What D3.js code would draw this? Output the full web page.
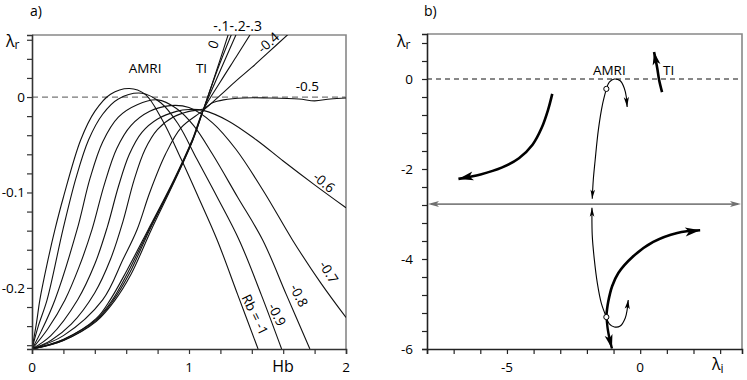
<!DOCTYPE html>
<html><head><meta charset="utf-8">
<script src="https://cdn.jsdelivr.net/npm/d3@7"></script>
<style>body{margin:0;background:#fff} svg{display:block} text{font-family:'Open Sans',sans-serif;fill:#000}</style>
</head><body><svg id="c" width="747" height="380"></svg>
<script>
// ---------- Panel a data: growth rate lambda_r vs Hb for each Rb ----------
const rbNames = ["-1","-0.9","-0.8","-0.7","-0.6","-0.5","-0.4","-0.3","-0.2","-0.1","0"];
const rbM10 = [[0,-0.264],[0.03,-0.235],[0.05,-0.2126],[0.1,-0.172],[0.146,-0.139],[0.2,-0.105],[0.31,-0.045],[0.4,-0.015],[0.5,0.003],[0.62,0.009],[0.72,0.003],[0.83,-0.024],[0.95,-0.065],[1.06,-0.105],[1.18,-0.150],[1.31,-0.207],[1.44,-0.264]];
const rbM09 = [[0,-0.264],[0.04,-0.24],[0.096,-0.2126],[0.197,-0.139],[0.28,-0.085],[0.36,-0.045],[0.45,-0.018],[0.55,-0.002],[0.70,0.004],[0.82,-0.006],[0.93,-0.028],[1.05,-0.065],[1.18,-0.105],[1.32,-0.150],[1.46,-0.207],[1.59,-0.264]];
const rbM08 = [[0,-0.264],[0.06,-0.245],[0.146,-0.2126],[0.287,-0.139],[0.37,-0.085],[0.45,-0.047],[0.55,-0.021],[0.67,-0.008],[0.80,-0.003],[0.92,-0.012],[1.03,-0.030],[1.15,-0.060],[1.31,-0.105],[1.47,-0.150],[1.62,-0.207],[1.77,-0.264]];
const rbM07 = [[0,-0.264],[0.1,-0.243],[0.21,-0.2126],[0.30,-0.178],[0.382,-0.139],[0.46,-0.092],[0.54,-0.054],[0.63,-0.030],[0.75,-0.015],[0.88,-0.009],[1.0,-0.011],[1.15,-0.027],[1.3,-0.055],[1.48,-0.100],[1.66,-0.150],[1.84,-0.195],[2.0,-0.231]];
const rbM06 = [[0,-0.264],[0.12,-0.250],[0.29,-0.2126],[0.40,-0.175],[0.48,-0.136],[0.55,-0.094],[0.62,-0.060],[0.70,-0.037],[0.80,-0.023],[0.92,-0.015],[1.0,-0.013],[1.09,-0.014],[1.25,-0.025],[1.43,-0.045],[1.6,-0.067],[1.8,-0.092],[2.0,-0.116]];
const rbM05 = [[0,-0.264],[0.12,-0.255],[0.25,-0.238],[0.40,-0.205],[0.50,-0.170],[0.58,-0.130],[0.65,-0.087],[0.72,-0.055],[0.80,-0.034],[0.90,-0.021],[1.0,-0.015],[1.09,-0.0125],[1.15,-0.006],[1.22,-0.003],[1.35,-0.001],[1.5,-0.001],[1.7,-0.002],[1.8,-0.004],[1.9,-0.002],[2.0,-0.001]];
const rbM04 = [[0,-0.264],[0.2,-0.25],[0.45,-0.2126],[0.58,-0.17],[0.669,-0.139],[0.75,-0.10],[0.85,-0.06],[0.95,-0.032],[1.09,-0.014],[1.2,0.002],[1.3,0.017],[1.4,0.031],[1.5,0.046],[1.63,0.0655]];
const rbM03 = [[0,-0.264],[0.2,-0.254],[0.41,-0.232],[0.50,-0.212],[0.60,-0.183],[0.74,-0.139],[0.9,-0.088],[1.02,-0.045],[1.09,-0.014],[1.2,0.016],[1.3,0.042],[1.39,0.0655]];
const rbM02 = [[0,-0.264],[0.2,-0.254],[0.41,-0.233],[0.51,-0.213],[0.61,-0.184],[0.745,-0.139],[0.9,-0.089],[1.022,-0.045],[1.09,-0.014],[1.2,0.028],[1.30,0.0655]];
const rbM01 = [[0,-0.264],[0.2,-0.255],[0.41,-0.234],[0.52,-0.2126],[0.62,-0.185],[0.75,-0.139],[0.9,-0.090],[1.024,-0.045],[1.09,-0.014],[1.18,0.028],[1.27,0.0655]];
const rb00  = [[0,-0.264],[0.2,-0.255],[0.41,-0.235],[0.53,-0.2126],[0.63,-0.186],[0.76,-0.139],[0.9,-0.091],[1.025,-0.045],[1.09,-0.014],[1.17,0.025],[1.25,0.0655]];
const rbSeries = [rbM10,rbM09,rbM08,rbM07,rbM06,rbM05,rbM04,rbM03,rbM02,rbM01,rb00];

const aXTicks = [0,0.2,0.4,0.6,0.8,1,1.2,1.4,1.6,1.8,2];
const aXLabels = [0,1,2];
const aYTicks = [0.06,0.04,0.02,0,-0.02,-0.04,-0.06,-0.08,-0.1,-0.12,-0.14,-0.16,-0.18,-0.2,-0.22,-0.24,-0.26];
const aYLabels = [0,-0.1,-0.2];

// ---------- Panel b data: paths in the complex plane (lambda_i, lambda_r) ----------
const bLeftThick  = [[-3.30,-0.33],[-3.46,-0.69],[-3.70,-1.09],[-4.04,-1.46],[-4.55,-1.76],[-5.20,-1.97],[-5.99,-2.12],[-6.82,-2.22]];
const bAmriTop    = [[-1.27,-0.22],[-1.16,-0.07],[-0.97,0.0],[-0.75,-0.04],[-0.60,-0.20],[-0.52,-0.40],[-0.49,-0.62]];
const bUpperThin  = [[-1.27,-0.22],[-1.42,-0.58],[-1.57,-1.13],[-1.69,-1.80],[-1.76,-2.24],[-1.80,-2.66]];
const bLowerThin  = [[-1.27,-5.29],[-1.46,-4.98],[-1.61,-4.53],[-1.72,-4.02],[-1.80,-3.47],[-1.81,-2.86]];
const bLoop       = [[-1.27,-5.29],[-1.16,-5.44],[-0.97,-5.51],[-0.75,-5.49],[-0.56,-5.31],[-0.49,-5.13],[-0.45,-4.91]];
const bThickDown  = [[-1.27,-5.25],[-1.22,-5.55],[-1.14,-5.80],[-1.06,-5.99]];
const bThickUp    = [[-1.27,-5.25],[-1.20,-4.95],[-1.05,-4.60],[-0.82,-4.31],[-0.30,-3.96],[0.49,-3.62],[1.39,-3.42],[2.25,-3.36]];
const bTI         = [[0.82,-0.29],[0.71,-0.02],[0.64,0.24],[0.52,0.60]];
const bCircles    = [[-1.27,-0.22],[-1.27,-5.29]];
const bHLine      = -2.78;
const bXTicks = [-8,-7,-6,-5,-4,-3,-2,-1,0,1,2,3];
const bXLabels = [-5,0];
const bYTicks = [-6,-5.6,-5.2,-4.8,-4.4,-4,-3.6,-3.2,-2.8,-2.4,-2,-1.6,-1.2,-0.8,-0.4,0,0.4,0.8];
const bYLabels = [0,-2,-4,-6];

const svg = d3.select("#c");
const FS = 13.5;

// ================= Panel a =================
const ax = d3.scaleLinear().domain([0,2]).range([32,346]);
const ay = d3.scaleLinear().domain([-0.264,0.065]).range([349,35]);

svg.append("clipPath").attr("id","clipA").append("rect")
  .attr("x",32).attr("y",35).attr("width",314).attr("height",314);

svg.append("path").attr("d",`M${ax(0)},${ay(0.065)}H${ax(2)}V${ay(-0.264)}`)
  .attr("fill","none").attr("stroke","#888").attr("stroke-width",1.6);
svg.append("line").attr("x1",ax(0)).attr("x2",ax(2)).attr("y1",ay(0)).attr("y2",ay(0))
  .attr("stroke","#777").attr("stroke-width",1.3).attr("stroke-dasharray","6,4");

const lineA = d3.line().x(d=>ax(d[0])).y(d=>ay(d[1])).curve(d3.curveCatmullRom.alpha(0.5));
const gA = svg.append("g").attr("clip-path","url(#clipA)");
rbSeries.forEach((s,i)=>{
  gA.append("path").attr("d",lineA(s)).attr("fill","none")
    .attr("stroke","#111").attr("stroke-width",1.1);
});

const axisA_B = d3.axisBottom(ax).tickValues(aXTicks).tickSize(5).tickFormat("");
const gab = svg.append("g").attr("transform",`translate(0,${ay(-0.264)})`).call(axisA_B);
const axisA_L = d3.axisLeft(ay).tickValues(aYTicks).tickSize(5).tickFormat("");
const gal = svg.append("g").attr("transform",`translate(${ax(0)},0)`).call(axisA_L);
[gab,gal].forEach(g=>{
  g.select(".domain").attr("stroke","#333").attr("stroke-width",1.6);
  g.selectAll(".tick line").attr("stroke","#333").attr("stroke-width",1.2);
});
aXLabels.forEach(v=>{
  svg.append("text").attr("x",ax(v)).attr("y",372).attr("text-anchor","middle")
    .attr("font-size",FS).text(v);
});
aYLabels.forEach(v=>{
  svg.append("text").attr("x",25).attr("y",ay(v)+5).attr("text-anchor","end")
    .attr("font-size",FS).text(v===0?"0":String(v));
});
svg.append("text").attr("x",283).attr("y",372).attr("text-anchor","middle")
  .attr("font-size",16).text("Hb");
const lA = svg.append("text").attr("x",6).attr("y",47).attr("font-size",16);
lA.append("tspan").text("λ");
lA.append("tspan").attr("font-size",12).attr("dy",2).text("r");
svg.append("text").attr("x",30).attr("y",16).attr("font-size",14).text("a)");

svg.append("text").attr("x",ax(0.72)).attr("y",ay(0.025)).attr("text-anchor","middle")
  .attr("font-size",FS).text("AMRI");
svg.append("text").attr("x",ax(1.08)).attr("y",ay(0.025)).attr("text-anchor","middle")
  .attr("font-size",FS).text("TI");

function rotLabel(txt,x,y,ang,fs){
  svg.append("text").attr("transform",`translate(${x},${y}) rotate(${ang})`)
    .attr("text-anchor","middle").attr("dy","0.35em").attr("font-size",fs||FS).text(txt);
}
rotLabel("0", ax(1.156), ay(0.055), -70);
svg.append("text").attr("x",ax(1.155)).attr("y",31).attr("font-size",14).text("-.1-.2-.3");
rotLabel("-0.4", ax(1.505), ay(0.057), -42);
svg.append("text").attr("x",ax(1.68)).attr("y",ay(0.006)).attr("font-size",FS).text("-0.5");
rotLabel("-0.6", ax(1.86), ay(-0.0895), 40);
rotLabel("-0.7", ax(1.89), ay(-0.1835), 58);
rotLabel("-0.8", ax(1.70), ay(-0.208), 63);
rotLabel("-0.9", ax(1.56), ay(-0.228), 64);
rotLabel("Rb = -1", ax(1.42), ay(-0.228), 64);

// ================= Panel b =================
const bx = d3.scaleLinear().domain([-8,3.82]).range([427,742]);
const by = d3.scaleLinear().domain([-6,1]).range([349,34]);

svg.append("path").attr("d",`M${bx(-8)},${by(1)}H${bx(3.82)}V${by(-6)}`)
  .attr("fill","none").attr("stroke","#888").attr("stroke-width",1.6);
svg.append("line").attr("x1",bx(-8)).attr("x2",bx(3.82)).attr("y1",by(0)).attr("y2",by(0))
  .attr("stroke","#111").attr("stroke-width",1).attr("stroke-dasharray","5,4");

const axisB_B = d3.axisBottom(bx).tickValues(bXTicks).tickSize(5).tickFormat("");
const gbb = svg.append("g").attr("transform",`translate(0,${by(-6)})`).call(axisB_B);
const axisB_L = d3.axisLeft(by).tickValues(bYTicks).tickSize(5).tickFormat("");
const gbl = svg.append("g").attr("transform",`translate(${bx(-8)},0)`).call(axisB_L);
[gbb,gbl].forEach(g=>{
  g.select(".domain").attr("stroke","#222").attr("stroke-width",1.6);
  g.selectAll(".tick line").attr("stroke","#222").attr("stroke-width",1.2);
});
bXLabels.forEach(v=>{
  svg.append("text").attr("x",bx(v)).attr("y",372).attr("text-anchor","middle")
    .attr("font-size",FS).text(v);
});
bYLabels.forEach(v=>{
  svg.append("text").attr("x",413).attr("y",by(v)+5).attr("text-anchor","end")
    .attr("font-size",FS).text(v);
});
const lbx = svg.append("text").attr("x",712).attr("y",370).attr("font-size",16);
lbx.append("tspan").text("λ");
lbx.append("tspan").attr("font-size",12).attr("dy",3).text("i");
const lby = svg.append("text").attr("x",397).attr("y",47).attr("font-size",16);
lby.append("tspan").text("λ");
lby.append("tspan").attr("font-size",12).attr("dy",2).text("r");
svg.append("text").attr("x",424).attr("y",16).attr("font-size",14).text("b)");

function arrowHead(tip, from, L, W, color){
  const dx = tip[0]-from[0], dy = tip[1]-from[1];
  const n = Math.hypot(dx,dy); const ux=dx/n, uy=dy/n; const px=-uy, py=ux;
  const b=[tip[0]-L*ux, tip[1]-L*uy];
  const m=[tip[0]-0.75*L*ux, tip[1]-0.75*L*uy];
  svg.append("path").attr("d",`M${tip[0]},${tip[1]}L${b[0]+W*px},${b[1]+W*py}L${m[0]},${m[1]}L${b[0]-W*px},${b[1]-W*py}Z`)
    .attr("fill",color).attr("stroke","none");
}
const hy = by(bHLine);
svg.append("line").attr("x1",bx(-8)+4).attr("x2",bx(3.82)-4).attr("y1",hy).attr("y2",hy)
  .attr("stroke","#808080").attr("stroke-width",1.6);
arrowHead([bx(-8)+1,hy],[bx(-7),hy],11,3,"#707070");
arrowHead([bx(3.82)-1,hy],[bx(3),hy],11,3,"#707070");

const lineB = d3.line().x(d=>bx(d[0])).y(d=>by(d[1])).curve(d3.curveCatmullRom.alpha(0.5));
function bPath(data, w, L, W){
  svg.append("path").attr("d",lineB(data)).attr("fill","none")
    .attr("stroke","#000").attr("stroke-width",w);
  const n=data.length;
  const tip=[bx(data[n-1][0]),by(data[n-1][1])];
  const prev=[bx(data[n-2][0]),by(data[n-2][1])];
  arrowHead(tip, prev, L, W, "#000");
}
bPath(bLeftThick, 2.6, 15, 4.5);
bPath(bAmriTop, 1.1, 10, 2.6);
bPath(bUpperThin, 1.1, 9, 2.3);
bPath(bLowerThin, 1.1, 9, 2.3);
bPath(bLoop, 1.1, 9, 2.6);
bPath(bThickDown, 2.4, 14, 4);
bPath(bThickUp, 2.6, 15, 4.5);
bPath(bTI, 2.6, 13, 4);
bCircles.forEach(c=>{
  svg.append("circle").attr("cx",bx(c[0])).attr("cy",by(c[1])).attr("r",2.6)
    .attr("fill","#fff").attr("stroke","#000").attr("stroke-width",1);
});
svg.append("text").attr("x",bx(-1.16)).attr("y",75).attr("text-anchor","middle")
  .attr("font-size",FS).text("AMRI");
svg.append("text").attr("x",bx(0.86)).attr("y",75).attr("font-size",FS).text("TI");
</script></body></html>
